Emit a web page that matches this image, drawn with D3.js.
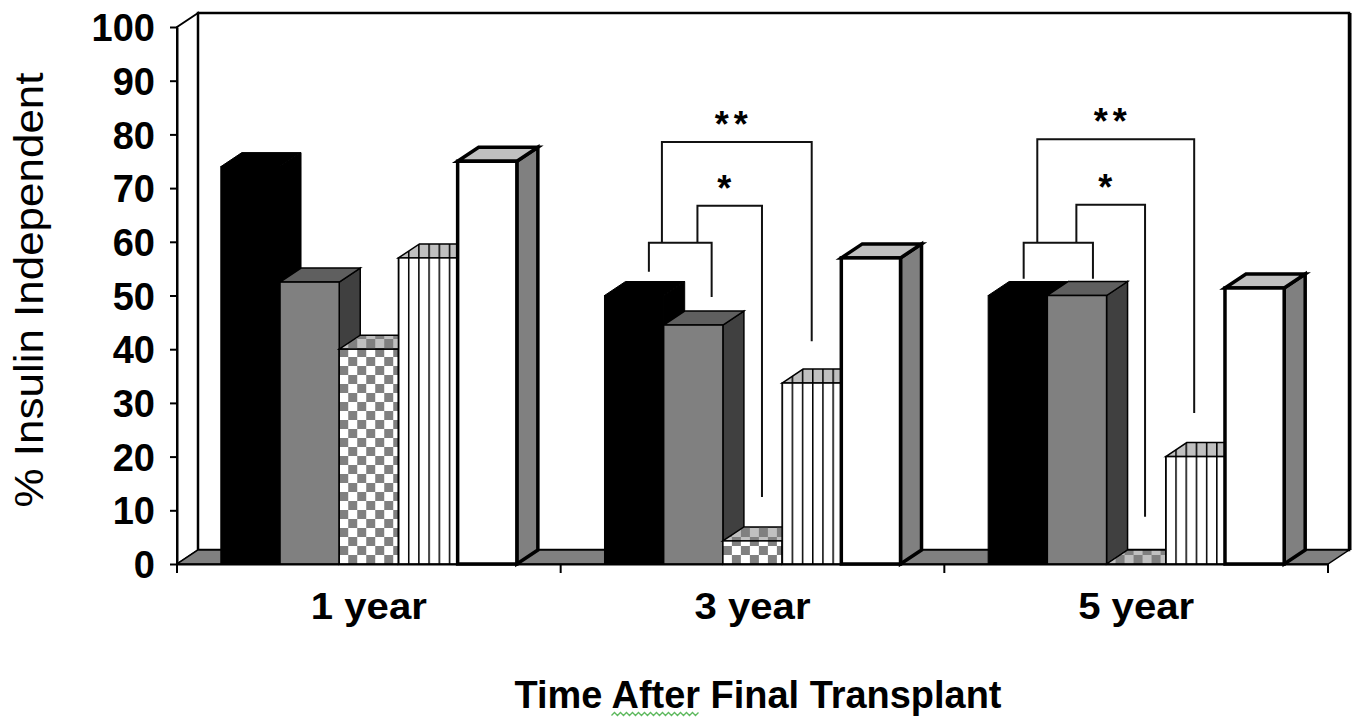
<!DOCTYPE html>
<html>
<head>
<meta charset="utf-8">
<script src="https://cdn.jsdelivr.net/npm/d3@7"></script>
<style>
body { margin: 0; background: #ffffff; }
svg { display: block; font-family: "Liberation Sans", Arial, sans-serif; }
</style>
</head>
<body>
<script>
var categories = ["1 year", "3 year", "5 year"];
var seriesA = [74, 50, 50];
var seriesB = [52.5, 44.5, 50];
var seriesC = [40, 4.3, 0];
var seriesD = [57, 33.7, 20];
var seriesE = [75, 57, 51.4];
var yTicks = [0, 10, 20, 30, 40, 50, 60, 70, 80, 90, 100];
var yTitle = "% Insulin Independent";
var xTitle = "Time After Final Transplant";
// short bracket joining the first two bars (positions in bar steps, levels in %)
var joins = [
	{ cat: "3 year", from: 0.75, to: 1.81, level: 59.8, endFrom: 54.4, endTo: 49.7 },
	{ cat: "5 year", from: 0.6, to: 1.77, level: 59.8, endFrom: 53.1, endTo: 53.1 }
];
var sigs = [
	{ cat: "3 year", mark: "**", from: 0.97, to: 3.5, level: 78.6, end: 41.5 },
	{ cat: "3 year", mark: "*", from: 1.57, to: 2.66, level: 66.7, end: 12.5 },
	{ cat: "5 year", mark: "**", from: 0.83, to: 3.48, level: 79.1, end: 28.1 },
	{ cat: "5 year", mark: "*", from: 1.49, to: 2.65, level: 66.9, end: 8.8 }
];

var series = [seriesA, seriesB, seriesC, seriesD, seriesE];
var looks = [
	{ front: "#000000", top: "#000000", side: "#000000", sw: 1 },
	{ front: "#808080", top: "#5f5f5f", side: "#404040", sw: 1.5 },
	{ front: "check", top: "checkTop", side: "#404040", sw: 1.5 },
	{ front: "stripe", top: "stripeTop", side: "#808080", sw: 1.5 },
	{ front: "#ffffff", top: "#c0c0c0", side: "#808080", sw: 3.5 }
];
var DX = 21, DY = 14;

var svg = d3.select("body")
	.append("svg")
	.attr("width", 1355)
	.attr("height", 719);
var defs = svg.append("defs");

var y = d3.scaleLinear()
	.domain([0, 100])
	.range([564, 27]);
var xCat = d3.scaleBand()
	.domain(categories)
	.range([177, 1328])
	.padding(0);
var xSer = d3.scaleBand()
	.domain(d3.range(series.length))
	.range([0, xCat.bandwidth()])
	.paddingInner(0)
	.paddingOuter(0.74);
function px (cat, p) {
	return xCat(cat) + xSer(0) + p * xSer.step();
}

var x0 = xCat.range()[0], x1 = xCat.range()[1];
var y0 = y(0), y100 = y(100);

// walls and floor
svg.append("path")
	.attr("d", "M" + x0 + "," + y100 + "L" + (x0 + DX) + "," + (y100 - DY) + "L" + (x0 + DX) + "," + (y0 - DY) + "L" + x0 + "," + y0 + "Z")
	.attr("fill", "#ffffff")
	.attr("stroke", "#000000")
	.attr("stroke-width", 2);
svg.append("rect")
	.attr("x", x0 + DX)
	.attr("y", y100 - DY)
	.attr("width", x1 - x0)
	.attr("height", y0 - y100)
	.attr("fill", "#ffffff")
	.attr("stroke", "#000000")
	.attr("stroke-width", 2.5);
svg.append("line")
	.attr("x1", x1 + DX + 1.5).attr("x2", x1 + DX + 1.5)
	.attr("y1", y100 - DY).attr("y2", y0 - DY)
	.attr("stroke", "#000000")
	.attr("stroke-width", 2);
svg.append("path")
	.attr("d", "M" + x0 + "," + y0 + "L" + (x0 + DX) + "," + (y0 - DY) + "L" + (x1 + DX) + "," + (y0 - DY) + "L" + x1 + "," + y0 + "Z")
	.attr("fill", "#808080")
	.attr("stroke", "#000000")
	.attr("stroke-width", 1.5);

function makeCheck (id, x, a, b) {
	var s = 9;
	var p = defs.append("pattern")
		.attr("id", id)
		.attr("patternUnits", "userSpaceOnUse")
		.attr("x", x).attr("y", y0)
		.attr("width", s * 2).attr("height", s * 2);
	p.append("rect").attr("width", s * 2).attr("height", s * 2).attr("fill", a);
	p.append("rect").attr("width", s).attr("height", s).attr("fill", b);
	p.append("rect").attr("x", s).attr("y", s).attr("width", s).attr("height", s).attr("fill", b);
}
function makeStripe (id, x, a) {
	var p = defs.append("pattern")
		.attr("id", id)
		.attr("patternUnits", "userSpaceOnUse")
		.attr("x", x - 0.7).attr("y", 0)
		.attr("width", 10.2).attr("height", 20);
	p.append("rect").attr("width", 10.2).attr("height", 20).attr("fill", a);
	p.append("rect").attr("width", 1.5).attr("height", 20).attr("fill", "#000000");
}

function fillFor (key, x, tag) {
	var id = key + "-" + tag;
	if (key === "check") { makeCheck(id, x, "#ffffff", "#808080"); return "url(#" + id + ")"; }
	if (key === "checkTop") { makeCheck(id, x, "#c0c0c0", "#808080"); return "url(#" + id + ")"; }
	if (key === "stripe") { makeStripe(id, x, "#ffffff"); return "url(#" + id + ")"; }
	if (key === "stripeTop") { makeStripe(id, x, "#c0c0c0"); return "url(#" + id + ")"; }
	return key;
}

var bars = svg.append("g");
categories.forEach(function (cat, ci) {
	series.forEach(function (vals, si) {
		var look = looks[si];
		var x = xCat(cat) + xSer(si);
		var w = xSer.bandwidth();
		var yt = y(vals[ci]);
		var tag = si + "-" + ci;
		var g = bars.append("g")
			.attr("stroke", "#000000")
			.attr("stroke-width", look.sw)
			.attr("stroke-linejoin", "miter");
		g.append("path")
			.attr("d", "M" + (x + w) + "," + yt + "L" + (x + w + DX) + "," + (yt - DY) + "L" + (x + w + DX) + "," + (y0 - DY) + "L" + (x + w) + "," + y0 + "Z")
			.attr("fill", fillFor(look.side, x, "s" + tag));
		g.append("path")
			.attr("d", "M" + x + "," + yt + "L" + (x + DX) + "," + (yt - DY) + "L" + (x + w + DX) + "," + (yt - DY) + "L" + (x + w) + "," + yt + "Z")
			.attr("fill", fillFor(look.top, x, "t" + tag));
		if (y0 - yt > 0) {
			g.append("rect")
				.attr("x", x)
				.attr("y", yt)
				.attr("width", w)
				.attr("height", y0 - yt)
				.attr("fill", fillFor(look.front, x, "f" + tag));
		}
	});
});

// axes
var yAxis = svg.append("g")
	.attr("transform", "translate(" + x0 + ",0)")
	.call(d3.axisLeft(y).tickValues(yTicks).tickSize(7).tickSizeOuter(0).tickPadding(15).tickFormat(d3.format("d")));
yAxis.select(".domain").attr("stroke", "#000000").attr("stroke-width", 2);
yAxis.selectAll(".tick line").attr("stroke", "#000000").attr("stroke-width", 2);
yAxis.selectAll("text")
	.attr("dy", "0.36em")
	.style("font-family", "'Liberation Sans', Arial, sans-serif")
	.style("font-size", "38px")
	.style("font-weight", "bold")
	.attr("fill", "#000000");

var xAxis = svg.append("g")
	.attr("transform", "translate(0," + y0 + ")")
	.call(d3.axisBottom(xCat).tickSize(0).tickSizeOuter(0));
xAxis.select(".domain").attr("stroke", "#000000").attr("stroke-width", 2);
xAxis.selectAll("text")
	.attr("y", 55)
	.attr("dy", 0)
	.attr("textLength", 116)
	.attr("lengthAdjust", "spacingAndGlyphs")
	.style("font-family", "'Liberation Sans', Arial, sans-serif")
	.style("font-size", "36px")
	.style("font-weight", "bold")
	.attr("fill", "#000000");
xAxis.selectAll(".bound")
	.data(categories.map(function (c) { return xCat(c); }).concat([x1]))
	.enter()
	.append("line")
	.attr("x1", function (d) { return d; })
	.attr("x2", function (d) { return d; })
	.attr("y1", 0)
	.attr("y2", 9)
	.attr("stroke", "#000000")
	.attr("stroke-width", 2);

// brackets
var br = svg.append("g")
	.attr("fill", "none")
	.attr("stroke", "#111111")
	.attr("stroke-width", 2);
var joinLevel = {};
joins.forEach(function (j) {
	joinLevel[j.cat] = j.level;
	br.append("path")
		.attr("d", "M" + px(j.cat, j.from) + "," + y(j.endFrom) + "V" + y(j.level) + "H" + px(j.cat, j.to) + "V" + y(j.endTo));
});
sigs.forEach(function (s) {
	br.append("path")
		.attr("d", "M" + px(s.cat, s.from) + "," + y(joinLevel[s.cat]) + "V" + y(s.level) + "H" + px(s.cat, s.to) + "V" + y(s.end));
	svg.append("text")
		.attr("x", (px(s.cat, s.from) + px(s.cat, s.to)) / 2 - 3)
		.attr("y", y(s.level) - 26 + 21)
		.attr("text-anchor", "middle")
		.attr("letter-spacing", 5)
		.style("font-size", "36px")
		.style("font-weight", "bold")
		.attr("fill", "#000000")
		.text(s.mark);
});

// titles
svg.append("text")
	.attr("transform", "translate(43,290) rotate(-90)")
	.attr("text-anchor", "middle")
	.attr("textLength", 435)
	.attr("lengthAdjust", "spacingAndGlyphs")
	.style("font-size", "40px")
	.attr("fill", "#000000")
	.text(yTitle);
var title = svg.append("text")
	.attr("x", 758)
	.attr("y", 708)
	.attr("text-anchor", "middle")
	.attr("textLength", 487)
	.attr("lengthAdjust", "spacingAndGlyphs")
	.style("font-size", "38px")
	.style("font-weight", "bold")
	.attr("fill", "#000000")
	.text(xTitle);

// the green squiggle the word processor left under "After"
(function () {
	var node = title.node();
	var a = node.getStartPositionOfChar(5).x;
	var b = node.getEndPositionOfChar(9).x;
	var pts = [];
	for (var i = 0; a + i * 3 <= b; i ++) {
		pts.push([a + i * 3, i % 2 ? 712.5 : 715.5]);
	}
	svg.append("path")
		.attr("d", d3.line()(pts))
		.attr("fill", "none")
		.attr("stroke", "#5cb85c")
		.attr("stroke-width", 1.3);
})();
</script>
</body>
</html>
